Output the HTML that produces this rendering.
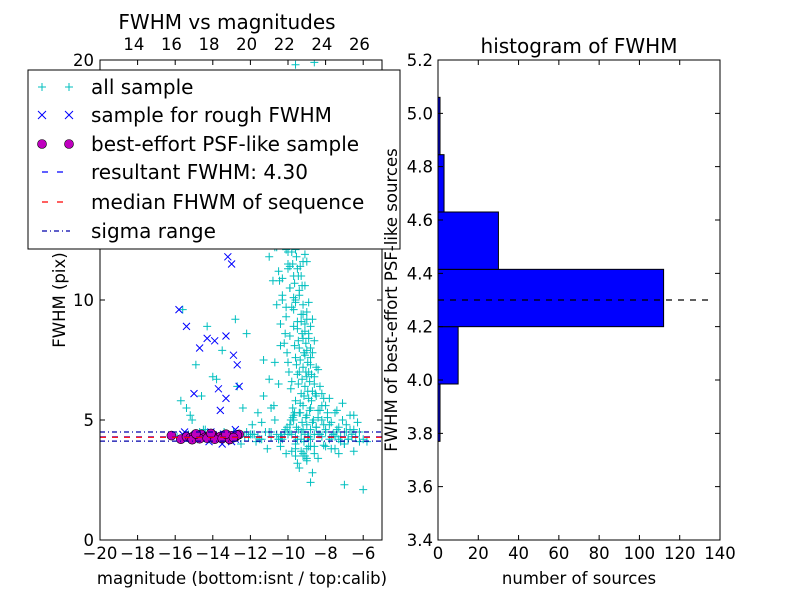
<!DOCTYPE html>
<html><head><meta charset="utf-8"><style>
body{margin:0;background:#fff;}
svg{display:block;font-family:"DejaVu Sans","Liberation Sans",sans-serif;}
</style></head><body>
<svg id="c" width="800" height="600" viewBox="0 0 800 600"></svg>
<script>
// ---- data ----
const allX=[-9.5,-9.3,-9.1,-9.0,-8.9,-8.8,-9.7,-9.4,-9.2,-9.0,-8.7,-8.6,-9.6,-9.3,-9.1,-8.9,-8.8,-8.5,-9.8,-9.5,-9.2,-9.0,-8.7,-8.4,-10.0,-9.6,-9.4,-9.1,-8.9,-8.6,-8.3,-10.2,-9.9,-9.5,-9.2,-9.0,-8.8,-8.5,-8.2,-10.4,-10.1,-9.7,-9.3,-9.1,-8.8,-8.6,-8.0,-10.6,-10.3,-9.9,-9.6,-9.2,-8.9,-8.4,-7.8,-10.8,-10.5,-10.0,-9.7,-9.4,-9.0,-8.7,-8.1,-7.6,-11.0,-10.7,-10.2,-9.8,-9.5,-9.1,-8.8,-8.3,-7.5,-11.3,-10.9,-10.4,-10.0,-9.6,-9.3,-8.9,-8.5,-7.9,-7.2,-11.5,-11.1,-10.6,-10.1,-9.7,-9.4,-9.0,-8.6,-8.2,-7.4,-6.8,-11.8,-11.2,-10.8,-10.3,-9.9,-9.5,-9.1,-8.7,-8.0,-7.0,-6.5,-12.0,-11.6,-11.0,-10.5,-10.0,-9.6,-9.2,-8.8,-8.4,-7.7,-6.9,-6.2,-12.3,-11.9,-11.4,-10.9,-10.4,-9.8,-9.3,-8.9,-8.3,-7.3,-6.6,-5.8,-9.2,-9.0,-9.4,-8.8,-9.6,-9.1,-8.9,-9.3,-9.5,-8.7,-9.0,-9.8,-10.0,-9.7,-10.2,-9.9,-10.4,-10.1,-9.6,-9.4,-10.6,-11.0,-10.8,-9.8,-9.2,-10.5,-11.3,-12.2,-12.8,-13.5,-14.0,-14.6,-15.2,-15.6,-14.3,-13.8,-14.9,-15.4,-14.5,-13.2,-12.6,-12.9,-13.1,-14.8,-15.0,-9.9,-10.0,-10.2,-9.5,-9.9,-10.3,-9.7,-10.1,-8.6,-7.0,-6.0,-9.6,-10.7,
-9.35,-9.15,-8.95,-9.45,-9.25,-9.05,-8.85,-8.65,-9.55,-9.35,-9.15,-8.95,-8.75,-9.65,-9.45,-9.25,-9.05,-8.85,-8.55,-9.75,-9.55,-9.35,-9.15,-8.95,-8.75,-9.85,-9.65,-9.45,-9.25,-9.05,-8.8,-9.95,-9.7,-9.5,-9.3,-9.1,-8.9,-10.05,-9.8,-9.6,-9.4,-9.2,-9.0,-10.15,-9.9,-9.65,-9.45,-9.25,-10.3,-10.0,-9.75,-9.55,-9.35,-10.45,-10.1,-9.85,-9.6,-10.6,-10.2,-9.9,-9.7,-10.75,-10.35,-10.05,-9.75,-10.9,-10.5,-10.15,-9.85,
-8.4,-8.2,-8.0,-7.8,-7.6,-7.4,-7.2,-7.0,-6.8,-6.6,-6.4,-6.2,-6.0,-8.3,-8.1,-7.9,-7.7,-7.5,-7.3,-7.1,-6.9,-6.7,-6.5,-6.3,-8.5,-8.0,-7.5,-7.0,-6.5,-8.6,-8.2,-7.8,-7.4,-7.1,-6.7,
-12.4,-12.1,-11.8,-11.5,-11.2,-10.9,-10.6,-10.3,-12.2,-11.9,-11.6,-11.3,-11.0,-10.7,-10.4,
-9.4,-9.0,-8.6,-9.8,-8.8,-9.2,-8.4,-10.1,-9.6,-8.1,-7.7,-7.3,-10.4,-11.1,-11.7,-12.5,-13.0,-13.6,-14.2,-14.7,-15.3,-15.9,-13.4,-14.4,-15.1,-15.7,-12.7,-11.4];
const allY=[4.2,4.5,4.4,4.8,4.3,4.6,5.0,5.3,5.6,5.2,4.9,4.4,5.8,6.1,6.4,5.9,5.5,4.7,6.6,6.9,7.2,6.8,6.2,5.1,7.4,7.6,8.0,7.7,7.0,6.5,5.4,8.2,8.5,8.8,8.4,7.9,7.3,6.0,5.0,9.0,9.3,9.6,9.1,8.7,8.0,6.8,4.6,9.8,10.2,10.5,10.0,9.4,8.6,7.1,4.8,10.8,11.2,11.5,11.0,10.4,9.5,7.8,5.9,4.4,11.8,12.2,12.6,12.0,11.3,10.6,8.9,6.4,4.3,12.5,13.0,13.4,12.8,12.1,11.0,9.9,7.2,5.3,4.1,13.6,14.0,14.5,13.9,13.2,12.4,11.6,8.3,6.1,4.5,4.2,14.8,15.3,15.0,14.2,13.5,12.9,11.9,9.2,5.6,4.0,4.6,4.4,4.3,4.5,4.2,4.4,4.3,4.6,4.2,4.4,4.3,4.5,4.1,4.3,4.4,4.2,4.5,4.3,4.4,4.2,4.3,4.4,4.2,4.3,4.1,3.6,3.3,3.0,2.4,3.8,3.5,3.9,3.7,3.2,2.8,3.4,15.6,16.2,16.8,17.3,17.9,18.5,19.1,19.8,14.1,13.3,12.7,15.4,16.0,11.6,6.5,7.5,8.6,9.2,7.9,6.8,6.0,5.2,9.6,8.9,6.7,7.3,5.5,4.6,4.3,4.4,4.5,4.3,4.2,4.4,4.5,12.0,12.6,13.0,11.4,10.9,10.1,9.7,19.9,2.3,2.1,3.5,5.0,5.3,
4.1,4.3,4.6,4.9,5.1,5.4,5.0,4.7,5.7,6.0,6.2,5.8,5.3,6.5,6.7,7.0,6.6,6.1,5.5,7.3,7.5,7.8,7.4,6.9,6.3,8.1,8.3,8.6,8.2,7.6,7.0,8.9,9.1,9.4,9.0,8.4,7.8,9.7,9.9,10.2,9.8,9.2,8.6,10.5,10.7,11.0,10.6,10.0,11.3,11.5,11.8,11.4,10.8,12.1,12.3,12.6,12.2,4.4,4.8,5.2,5.6,4.3,4.7,5.1,5.5,4.2,4.6,5.0,5.4,
4.3,4.5,4.2,4.4,4.6,4.3,4.5,4.2,4.4,4.3,4.5,4.2,4.4,4.8,5.1,4.9,5.3,4.7,5.0,4.8,4.6,5.2,4.9,4.7,3.9,3.8,4.0,3.7,3.9,5.6,5.9,5.4,5.7,5.2,5.5,
4.3,4.4,4.2,4.5,4.3,4.4,4.2,4.5,4.8,5.3,6.0,6.7,7.4,8.1,7.0,
3.8,3.6,3.7,3.9,3.5,3.4,3.6,4.0,3.95,3.8,3.6,3.9,3.8,4.1,4.0,4.3,4.4,4.2,4.5,4.4,4.3,4.5,4.6,5.0,5.8,6.4,4.9,4.7];
const roughX=[-15.8,-15.4,-15.0,-14.7,-14.3,-13.9,-13.6,-13.3,-13.2,-13.0,-12.9,-12.7,-12.6,-14.8,-14.5,-14.1,-13.8,-13.4,-13.1,-12.8,-15.5,-14.9,-14.2,-13.5,-13.0,-13.7,-13.3,-12.8,-14.0,-15.6];
const roughY=[9.6,8.9,6.1,8.0,8.4,8.3,5.4,8.5,11.8,11.5,7.7,7.3,6.4,4.4,4.3,4.5,4.2,4.4,4.3,4.2,4.5,4.2,4.1,4.0,4.1,6.3,5.9,4.6,4.3,4.4];
const bestX=[-16.2,-15.7,-15.4,-15.2,-15.0,-14.8,-14.6,-14.4,-14.2,-14.0,-13.8,-13.6,-13.4,-13.2,-13.0,-12.8,-12.6,-15.1,-14.7,-14.3,-13.9,-13.5,-13.1,-12.7,-14.9,-14.1,-13.3,-12.9];
const bestY=[4.35,4.2,4.3,4.25,4.35,4.3,4.4,4.28,4.33,4.38,4.26,4.31,4.36,4.29,4.34,4.3,4.4,4.18,4.22,4.24,4.2,4.23,4.19,4.37,4.42,4.44,4.41,4.27];
const resultFWHM=4.30, medianFWHM=4.28, sigmaLow=4.12, sigmaHigh=4.50;
const binEdges=[3.77,3.985,4.20,4.415,4.63,4.845,5.06];
const binCounts=[1,10,112,30,3,1];
const xTicks=[-20,-18,-16,-14,-12,-10,-8,-6];
const yTicks=[0,5,10,15,20];
const topTicks=[14,16,18,20,22,24,26];
const hxTicks=[0,20,40,60,80,100,120,140];
const hyTicks=[3.4,3.6,3.8,4.0,4.2,4.4,4.6,4.8,5.0,5.2];

const NS="http://www.w3.org/2000/svg", svg=document.getElementById('c');
function mk(t,a,p){const e=document.createElementNS(NS,t);for(const k in a)e.setAttribute(k,a[k]);(p||svg).appendChild(e);return e;}
const L={x0:100,x1:382,y0:540,y1:60};
const sx=v=>L.x0+(v+20)/15*(L.x1-L.x0);
const sy=v=>L.y0-v/20*(L.y0-L.y1);
const calibOff=32.2;
const tx=v=>sx(v-calibOff);
const R={x0:438,x1:720,y0:540,y1:60};
const hx=v=>R.x0+v/140*(R.x1-R.x0);
const hy=v=>R.y0-(v-3.4)/1.8*(R.y0-R.y1);

const gL=mk('g',{});
mk('defs',{}).innerHTML='<clipPath id="cl"><rect x="100" y="60" width="282" height="480"/></clipPath><clipPath id="cr"><rect x="438" y="60" width="282" height="480"/></clipPath>';
const pts=mk('g',{'clip-path':'url(#cl)'},gL);
function hline(v,col,dash,nm){const e=mk('line',{x1:L.x0,x2:L.x1,y1:sy(v),y2:sy(v),stroke:col,'stroke-width':1.2,'stroke-dasharray':dash},pts);}
for(let i=0;i<allX.length;i++){const x=sx(allX[i]),y=sy(allY[i]);
 const e=mk('path',{d:`M${x-4},${y}h8M${x},${y-4}v8`,stroke:'#00bfbf','stroke-width':1},pts);
 }
for(let i=0;i<roughX.length;i++){const x=sx(roughX[i]),y=sy(roughY[i]);
 const e=mk('path',{d:`M${x-3.5},${y-3.5}l7,7M${x-3.5},${y+3.5}l7,-7`,stroke:'#0000ff','stroke-width':1},pts);
 }
for(let i=0;i<bestX.length;i++){
 const e=mk('circle',{cx:sx(bestX[i]),cy:sy(bestY[i]),r:4.5,fill:'#bf00bf',stroke:'#000','stroke-width':0.6},pts);
 }
hline(resultFWHM,'#0000ff','6,6','resultant-fwhm-line');
hline(medianFWHM,'#ff0000','6,6','median-fwhm-line');
hline(sigmaLow,'#0000aa','5,3,1,3','sigma-low-line');
hline(sigmaHigh,'#0000aa','5,3,1,3','sigma-high-line');
mk('rect',{x:L.x0,y:L.y1,width:L.x1-L.x0,height:L.y0-L.y1,fill:'none',stroke:'#000','stroke-width':1},gL);
function txt(x,y,s,sz,anc,p,nm,rot){const e=mk('text',{x:x,y:y,'font-size':sz,'text-anchor':anc||'middle',fill:'#000'},p||svg);if(rot)e.setAttribute('transform',`rotate(-90 ${x} ${y})`);e.textContent=s;return e;}
const mn=s=>s.replace('-','\u2212');
xTicks.forEach(v=>{const x=sx(v);mk('path',{d:`M${x},540v-5M${x},60v5`,stroke:'#000'},gL);txt(x,559,mn(String(v)),16.5,'middle',gL,'x-tick-label');});
yTicks.forEach(v=>{const y=sy(v);mk('path',{d:`M100,${y}h5M382,${y}h-5`,stroke:'#000'},gL);txt(94,y+6,String(v),16.5,'end',gL,'y-tick-label');});
topTicks.forEach(v=>{const x=tx(v);txt(x,50,String(v),16.5,'middle',gL,'top-tick-label');});
txt(242,584,'magnitude (bottom:isnt / top:calib)',16.5,'middle',gL,'x-axis-title');
txt(65,300,'FWHM (pix)',16.5,'middle',gL,'y-axis-title',true);
txt(227,29,'FWHM vs magnitudes',20,'middle',gL,'left-title');
const lg=mk('g',{});
mk('rect',{x:28,y:70,width:372,height:179,fill:'#fff',stroke:'#000','stroke-width':1},lg);
const ly=[87,115,144,172,202,231];
const lbl=['all sample','sample for rough FWHM','best-effort PSF-like sample','resultant FWHM: 4.30','median FHWM of sequence','sigma range'];
ly.forEach((y,i)=>{
 [42,69].forEach(x=>{
  if(i==0)mk('path',{d:`M${x-4},${y}h8M${x},${y-4}v8`,stroke:'#00bfbf'},lg);
  if(i==1)mk('path',{d:`M${x-4},${y-4}l8,8M${x-4},${y+4}l8,-8`,stroke:'#0000ff'},lg);
  if(i==2)mk('circle',{cx:x,cy:y,r:4.5,fill:'#bf00bf',stroke:'#000','stroke-width':0.6},lg);
 });
 if(i==3)mk('line',{x1:42,x2:70,y1:y,y2:y,stroke:'#0000ff','stroke-width':1.2,'stroke-dasharray':'6,9'},lg);
 if(i==4)mk('line',{x1:42,x2:70,y1:y,y2:y,stroke:'#ff0000','stroke-width':1.2,'stroke-dasharray':'6,9'},lg);
 if(i==5)mk('line',{x1:42,x2:70,y1:y,y2:y,stroke:'#0000aa','stroke-width':1.2,'stroke-dasharray':'5,3,1,3'},lg);
 txt(91,y+7,lbl[i],20,'start',lg,'legend-entry');
});
const gR=mk('g',{});
const bars=mk('g',{'clip-path':'url(#cr)'},gR);
binCounts.forEach((c,i)=>{const y0=hy(binEdges[i+1]),y1=hy(binEdges[i]);
 const e=mk('rect',{x:hx(0),y:y0,width:hx(c)-hx(0),height:y1-y0,fill:'#0000ff',stroke:'#000','stroke-width':1},bars);
 });
const dl=mk('line',{x1:hx(0),x2:hx(135),y1:hy(resultFWHM),y2:hy(resultFWHM),stroke:'#000','stroke-width':1.2,'stroke-dasharray':'6,6'},gR);

mk('rect',{x:R.x0,y:R.y1,width:R.x1-R.x0,height:R.y0-R.y1,fill:'none',stroke:'#000'},gR);
hxTicks.forEach(v=>{const x=hx(v);mk('path',{d:`M${x},540v-5M${x},60v5`,stroke:'#000'},gR);txt(x,559,String(v),16.5,'middle',gR,'hist-x-tick-label');});
hyTicks.forEach(v=>{const y=hy(v);mk('path',{d:`M438,${y}h5M720,${y}h-5`,stroke:'#000'},gR);txt(433,y+6,v.toFixed(1),16.5,'end',gR,'hist-y-tick-label');});
txt(579,584,'number of sources',16.5,'middle',gR,'hist-x-axis-title');
txt(397,300,'FWHM of best-effort PSF-like sources',16.5,'middle',gR,'hist-y-axis-title',true);
txt(579,53,'histogram of FWHM',20,'middle',gR,'hist-title');
</script>
</body></html>
